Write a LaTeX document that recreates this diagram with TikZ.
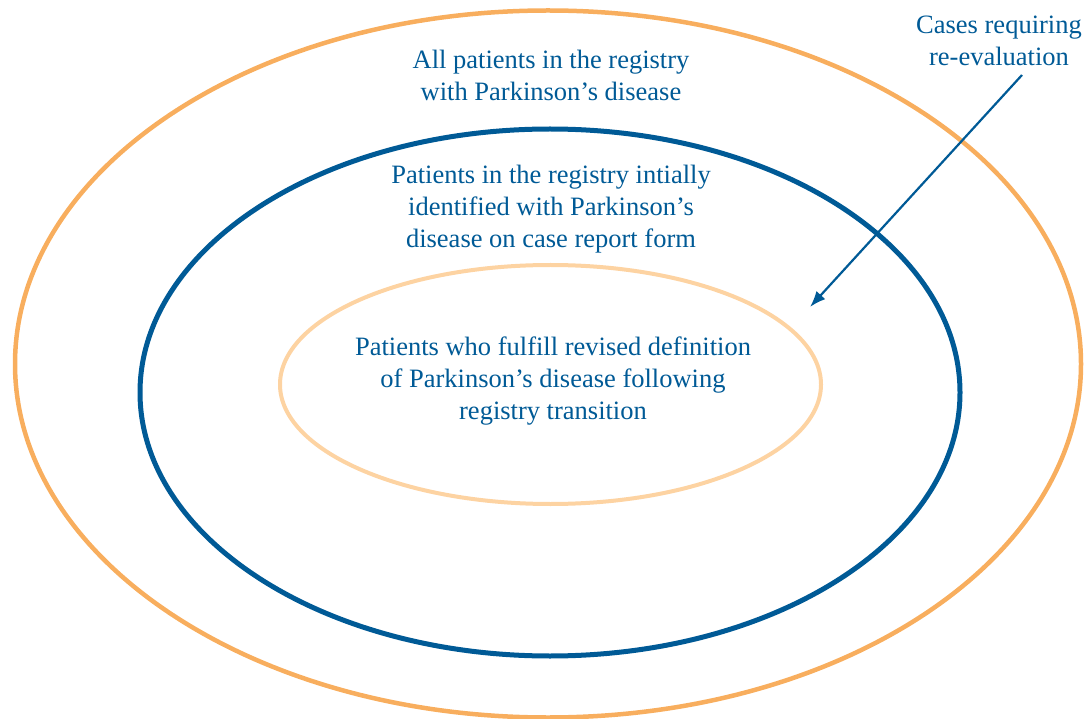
\documentclass[tikz,border=0pt]{standalone}
\usepackage{fontspec}
\setmainfont{Liberation Serif}
\usetikzlibrary{shapes.geometric,arrows.meta}
\definecolor{outerorange}{HTML}{F8AE5E}
\definecolor{regblue}{HTML}{005A96}
\definecolor{lightorange}{HTML}{FDD3A2}
\tikzset{
  ring/.style={ellipse, inner sep=0pt, outer sep=0pt},
  lbl/.style={align=center, text=regblue, font=\fontsize{26.5}{32}\selectfont, inner sep=0pt}
}
\begin{document}
\begin{tikzpicture}[x=1pt,y=-1pt]
\useasboundingbox (0,0) rectangle (1087,719);
\node[ring, draw=outerorange, line width=4.5pt, minimum width=1066pt, minimum height=707pt] (outer) at (548,364) {};
\node[ring, draw=regblue, line width=5pt, minimum width=820pt, minimum height=527pt] (mid) at (550,392.5) {};
\node[ring, draw=lightorange, line width=4pt, minimum width=541pt, minimum height=239pt] (inner) at (550.5,384.5) {};
\node[lbl] (t1) at (551,75) {All patients in the registry\\with Parkinson’s disease};
\node[lbl] (t2) at (551,209) {Patients in the registry intially\\identified with Parkinson’s\\disease on case report form};
\node[lbl] (t3) at (553,381) {Patients who fulfill revised definition\\of Parkinson’s disease following\\registry transition};
\node[lbl] (t4) at (999,41) {Cases requiring\\re-evaluation};
\coordinate (astart) at (1022,75);
\coordinate (aend) at (810,307);
\draw[regblue, line width=2.2pt, -{Latex[length=16pt,width=12pt]}] (astart) -- (aend);
\end{tikzpicture}
\end{document}
